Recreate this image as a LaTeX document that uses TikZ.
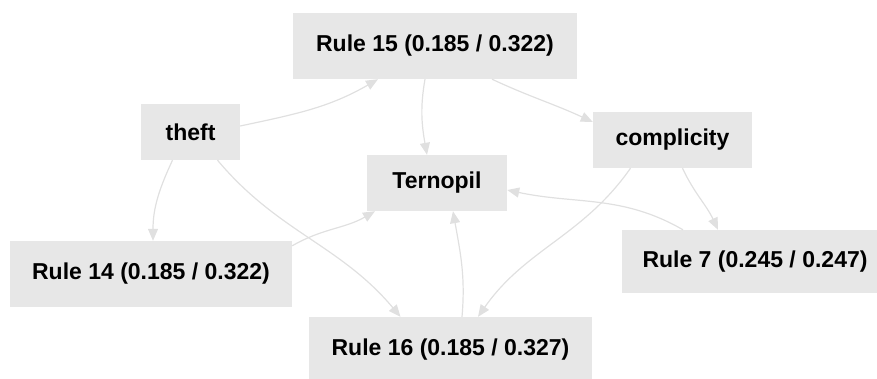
\documentclass[tikz,border=0pt]{standalone}
\usepackage{fontspec}
\setmainfont{Liberation Sans}
\usetikzlibrary{arrows.meta}
\definecolor{nodegray}{RGB}{231,231,231}
\definecolor{edgegray}{RGB}{224,224,224}
\begin{document}
\begin{tikzpicture}[x=1pt,y=1pt,
  box/.style={fill=nodegray, draw=none, inner sep=0pt, text=black,
    font=\fontsize{23}{27}\selectfont\bfseries},
  link/.style={draw=edgegray, line width=1.2pt,
    -{Triangle[length=12pt,width=10pt,fill=edgegray]}}]
\useasboundingbox (0,0) rectangle (877,-378);
\clip (0,0) rectangle (877,-378);
\node[box, minimum width=284pt, minimum height=66pt] (r15) at (435,-46) {Rule 15 (0.185 / 0.322)};
\node[box, minimum width=99pt, minimum height=56pt] (theft) at (190.5,-132) {theft};
\node[box, minimum width=140pt, minimum height=56pt] (tern) at (437,-183) {Ternopil};
\node[box, minimum width=159pt, minimum height=56pt] (compl) at (672.5,-140) {complicity};
\node[box, minimum width=282pt, minimum height=66pt] (r14) at (151,-274) {Rule 14 (0.185 / 0.322)};
\node[box, minimum width=266pt, minimum height=63pt] (r7) at (755,-261.5) {Rule 7 (0.245 / 0.247)};
\node[box, minimum width=283pt, minimum height=66pt] (r16) at (450.5,-350) {Rule 16 (0.185 / 0.327)};
% edges
\draw[link] ([yshift=6pt]theft.east) to[out=12,in=-150] ([xshift=-57pt]r15.south);
\draw[link] ([xshift=-10pt]r15.south) to[out=-100,in=100] ([xshift=-10pt]tern.north);
\draw[link] ([xshift=57pt]r15.south) to[out=-25,in=155] ([yshift=18pt]compl.west);
\draw[link] ([xshift=-18pt]theft.south) to[out=-115,in=90] ([xshift=2pt]r14.north);
\draw[link] ([xshift=27pt]theft.south) to[out=-50,in=130] ([xshift=-50pt]r16.north);
\draw[link] ([yshift=-5pt]r14.north east) to[out=30,in=-150] ([xshift=-62pt]tern.south);
\draw[link] ([xshift=11.5pt]r16.north) to[out=85,in=-80] ([xshift=16pt]tern.south);
\draw[link] ([xshift=-42pt]compl.south) to[out=-125,in=55] ([xshift=27.5pt]r16.north);
\draw[link] ([xshift=10pt]compl.south) to[out=-65,in=115] ([xshift=-37pt]r7.north);
\draw[link] ([xshift=-72pt]r7.north) to[out=150,in=-12] ([yshift=-7pt]tern.east);
\end{tikzpicture}
\end{document}
